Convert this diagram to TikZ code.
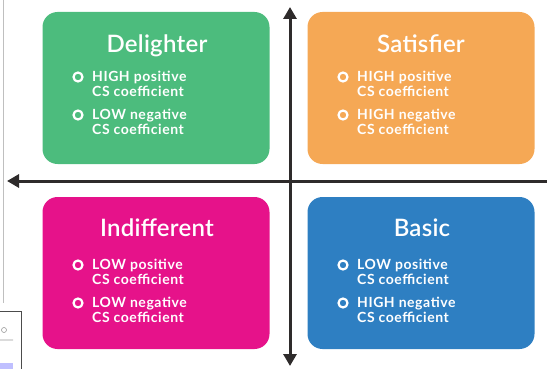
\documentclass[tikz,border=0pt]{standalone}
\usepackage{fontspec}
\setmainfont{Lato}
\IfFontExistsTF{Lato Semibold}{\newfontfamily\quadtitlefont{Lato Semibold}}{\newfontfamily\quadtitlefont{Lato}}
\usepackage{xcolor}
\usetikzlibrary{arrows.meta, positioning}

\definecolor{delightgreen}{HTML}{4CBC7D}
\definecolor{satisforange}{HTML}{F5A855}
\definecolor{indiffpink}{HTML}{E6128A}
\definecolor{basicblue}{HTML}{2E7FC2}
\definecolor{axisgray}{HTML}{2E2B2B}

\begin{document}
\begin{tikzpicture}[x=1pt, y=-1pt,
    quadrant/.style={rounded corners=15pt, minimum width=227pt, minimum height=152pt, inner sep=0pt},
    qtitle/.style={text=white, anchor=base, inner sep=0pt, font=\quadtitlefont\fontsize{24}{24}\selectfont\addfontfeatures{LetterSpace=1}},
    qitem/.style={text=white, anchor=north west, align=left, inner sep=0pt, font=\bfseries\fontsize{14}{15}\selectfont\addfontfeatures{LetterSpace=4}},
    ring/.style={circle, draw=white, line width=2.2pt, minimum size=9pt, inner sep=0pt},
    axis/.style={draw=axisgray, line width=3pt}]
                                \useasboundingbox (0, 0) rectangle (547, 369);
                                % screenshot leftovers at the left edge
                                \draw[black!25, line width=0.8pt] (3, 0) -- (3, 303);
                                \fill[blue!25] (0, 363) rectangle (13, 369);
                                \draw[black!70, line width=1pt] (-1, 311) -- (21, 311) -- (21, 370);
                                \draw[black!40, line width=0.6pt] (0, 340) -- (13, 340) (4, 330) circle (2.5);
                                % quadrants
                                \node[quadrant, fill=delightgreen] (delighter) at (156, 88) {};
                                \node[quadrant, fill=satisforange] (satisfier) at (421, 88) {};
                                \node[quadrant, fill=indiffpink] (indifferent) at (156, 273) {};
                                \node[quadrant, fill=basicblue] (basic) at (421, 273) {};
                                \node[qtitle] (delighterT) at (157, 53) {Delighter};
                                \node[qtitle] (satisfierT) at (421, 53) {Satisfier};
                                \node[qtitle] (indifferentT) at (157, 236) {Indifferent};
                                \node[qtitle] (basicT) at (422, 236) {Basic};
                                % bullet points
                                \node[ring] (dA) at (78, 77) {};
                                \node[qitem] (tA) at (92, 71) {HIGH positive\\CS coefficient};
                                \node[ring] (dB) at (78, 115) {};
                                \node[qitem] (tB) at (92, 109) {LOW negative\\CS coefficient};
                                \node[ring] (sA) at (343, 77) {};
                                \node[qitem] (uA) at (357, 71) {HIGH positive\\CS coefficient};
                                \node[ring] (sB) at (343, 115) {};
                                \node[qitem] (uB) at (357, 109) {HIGH negative\\CS coefficient};
                                \node[ring] (iA) at (78, 265) {};
                                \node[qitem] (jA) at (92, 259) {LOW positive\\CS coefficient};
                                \node[ring] (iB) at (78, 303) {};
                                \node[qitem] (jB) at (92, 297) {LOW negative\\CS coefficient};
                                \node[ring] (bA) at (343, 265) {};
                                \node[qitem] (cA) at (357, 259) {LOW positive\\CS coefficient};
                                \node[ring] (bB) at (343, 303) {};
                                \node[qitem] (cB) at (357, 297) {HIGH negative\\CS coefficient};
                                % axes
                                \coordinate (axisW) at (7, 181);
                                \coordinate (axisE) at (548, 181);
                                \coordinate (axisN) at (290, 7);
                                \coordinate (axisS) at (290, 366);
                                \draw[axis, -{Triangle[length=12pt, width=13pt]}] (axisE) -- (axisW);
                                \draw[axis, {Triangle[length=12pt, width=13pt]}-{Triangle[length=12pt, width=13pt]}] (axisS) -- (axisN);
                            \end{tikzpicture}
\end{document}
